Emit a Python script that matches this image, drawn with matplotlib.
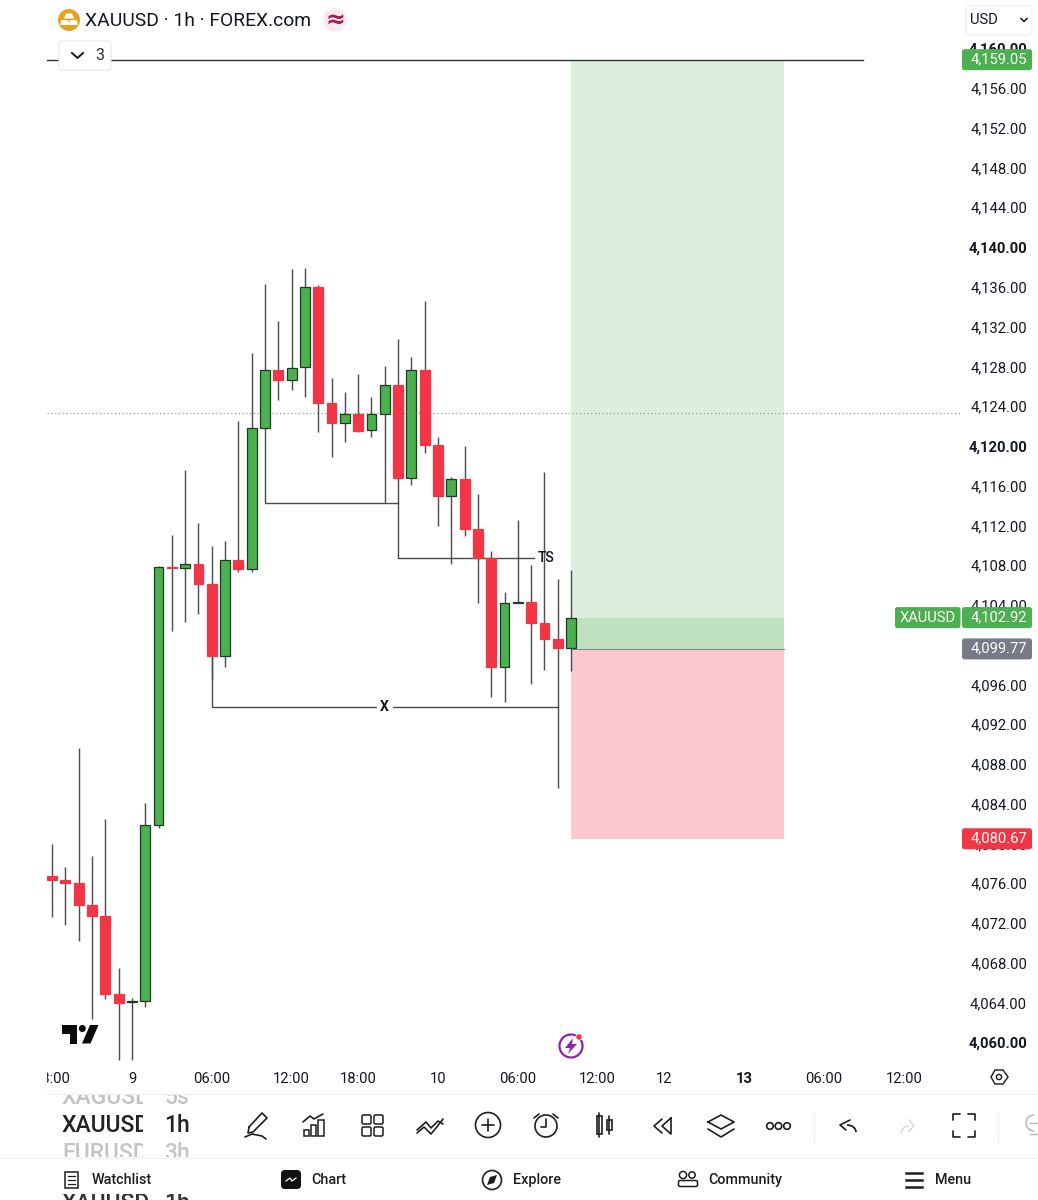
import matplotlib
matplotlib.use("Agg")
import matplotlib.pyplot as plt
from matplotlib.patches import Circle, FancyBboxPatch, Polygon, Rectangle, Arc
from matplotlib.transforms import ScaledTranslation

plt.rcParams['font.family'] = ['Roboto', 'DejaVu Sans']

# candles, oldest first
opens = [4076.95, 4076.55, 4076.25, 4074.03, 4072.93, 4065.08, 4064.20, 4064.35, 4082.02, 4108.00,
         4107.91, 4108.31, 4106.30, 4099.05, 4108.71, 4107.81, 4121.96, 4127.83, 4126.79, 4128.10,
         4136.15, 4124.54, 4122.49, 4123.37, 4121.76, 4123.40, 4126.29, 4116.93, 4127.80, 4120.25,
         4115.18, 4116.86, 4111.80, 4108.94, 4097.98, 4104.36, 4104.52, 4102.34, 4100.73, 4099.89]
highs = [4080.14, 4077.83, 4089.80, 4078.93, 4082.66, 4067.67, 4064.65, 4084.26, 4108.10, 4111.23,
         4117.77, 4112.46, 4110.12, 4110.62, 4122.70, 4129.57, 4136.51, 4132.79, 4137.96, 4138.06,
         4136.38, 4127.02, 4125.61, 4127.45, 4125.11, 4128.26, 4130.98, 4129.10, 4134.80, 4121.06,
         4117.09, 4120.21, 4115.38, 4109.62, 4105.46, 4112.74, 4108.21, 4117.59, 4106.77, 4107.71]
lows = [4072.80, 4071.99, 4070.38, 4062.53, 4064.55, 4058.41, 4058.41, 4063.74, 4081.75, 4101.57,
        4102.47, 4103.28, 4096.64, 4097.95, 4107.50, 4107.50, 4121.90, 4124.81, 4125.81, 4125.11,
        4121.56, 4119.04, 4120.61, 4121.62, 4121.12, 4114.48, 4116.80, 4116.23, 4119.51, 4112.13,
        4108.34, 4111.16, 4104.39, 4094.90, 4094.46, 4104.36, 4096.21, 4097.61, 4085.80, 4097.58]
closes = [4076.52, 4076.22, 4074.03, 4072.90, 4065.08, 4064.17, 4064.30, 4082.02, 4108.00, 4107.95,
          4108.31, 4106.30, 4099.05, 4108.71, 4107.81, 4121.96, 4127.83, 4126.79, 4128.06, 4136.15,
          4124.54, 4122.46, 4123.37, 4121.72, 4123.37, 4126.29, 4116.93, 4127.80, 4120.25, 4115.18,
          4116.86, 4111.80, 4108.94, 4097.98, 4104.36, 4104.46, 4102.34, 4100.73, 4099.89, 4102.92]

price_ticks = list(range(4060, 4161, 4))
bold_prices = [4060, 4120, 4140, 4160]

time_pos = [0, 6, 12, 18, 23, 29, 35, 41, 46, 52, 58, 64]
time_labels = ["18:00", "9", "06:00", "12:00", "18:00", "10", "06:00", "12:00", "12", "13", "06:00", "12:00"]

# position tool and levels
entry = 4099.77
target = 4159.05
stop = 4080.67
last_price = 4102.92
pos_start = 39
pos_end = 55
session_line = 4123.5

GREEN = "#4caf50"
RED = "#f23645"
INK = "#131722"

fig = plt.figure(figsize=(10.38, 12), dpi=100, facecolor="white")

# axes placed so one candle is 13.31 px and one dollar is 9.94 px
ax = fig.add_axes([47 / 1038, 1 - 1062 / 1200, 914 / 1038, 1022 / 1200])
ax.set_xlim(-0.38, 68.3)
ax.set_ylim(4058.21, 4161.03)
for s in ax.spines.values():
    s.set_visible(False)

# position zones
ax.add_patch(Rectangle((pos_start, entry), pos_end - pos_start, target - entry, color="#dcefdc", lw=0, zorder=1))
ax.add_patch(Rectangle((pos_start, entry), pos_end - pos_start, last_price - entry, color="#bfe1bf", lw=0, zorder=1.1))
ax.add_patch(Rectangle((pos_start, stop), pos_end - pos_start, entry - stop, color="#fcc8ce", lw=0, zorder=1))
ax.plot([pos_start, pos_end], [entry, entry], color="#8a8a8a", lw=0.8, zorder=1.2)

# horizontal levels
ax.plot([-0.38, 60.9], [target, target], color="#333333", lw=1.0, zorder=2)
ax.axhline(session_line, color="#9a9a9a", lw=0.9, ls=(0, (1, 2)), zorder=1.5)

# market structure drawings
line_c = "#4a4a4a"
ax.plot([12, 12, 38], [closes[12], 4093.92, 4093.92], color=line_c, lw=1.0, zorder=2)
ax.plot([16, 16, 26], [opens[16], 4114.48, 4114.48], color=line_c, lw=1.0, zorder=2)
ax.plot([26, 26, 36.2], [closes[26], 4108.94, 4108.94], color=line_c, lw=1.0, zorder=2)
ax.text(25, 4093.92, "X", ha="center", va="center", fontsize=10, fontweight="bold", color=INK, zorder=6,
        bbox=dict(facecolor="white", edgecolor="none", pad=2.5))
ax.text(37.1, 4108.9, "TS", ha="center", va="center", fontsize=10, fontweight="medium", color=INK, zorder=6)

# candles
for i in range(len(opens)):
    up = closes[i] >= opens[i]
    ax.plot([i, i], [lows[i], highs[i]], color="#505050", lw=1.05, zorder=3, solid_capstyle="butt")
    ax.bar(i, abs(closes[i] - opens[i]), bottom=min(opens[i], closes[i]), width=0.74,
           color=GREEN if up else RED, edgecolor="#1d3b20" if up else RED, linewidth=0.9, zorder=4)

# price scale and time scale
ax.yaxis.tick_right()
ax.set_yticks(price_ticks)
ax.set_yticklabels([f"{p:,.2f}" for p in price_ticks])
ax.tick_params(axis="y", length=0, pad=47.5, labelsize=10.6, labelcolor=INK)
for lab, p in zip(ax.get_yticklabels(), price_ticks):
    lab.set_ha("right")
    lab.set_fontweight("bold" if p in bold_prices else "normal")
    lab.set_transform(lab.get_transform() + ScaledTranslation(0, 0.02, fig.dpi_scale_trans))
ax.set_xticks(time_pos)
ax.set_xticklabels(time_labels)
ax.tick_params(axis="x", length=0, pad=7, labelsize=10.6, labelcolor=INK)
for lab, t in zip(ax.get_xticklabels(), time_labels):
    if t == "13":
        lab.set_fontweight("bold")

# everything around the chart, in pixel coordinates
ui = fig.add_axes([0, 0, 1, 1], zorder=5)
ui.set_xlim(0, 1038)
ui.set_ylim(1200, 0)
ui.axis("off")

# first time label is cut by the left edge
first = ax.get_xticklabels()[0]
first.set_clip_path(Rectangle((47, 1062), 100, 40, transform=ui.transData))
first.set_clip_on(True)


def box(x0, y0, x1, y1, fc, ec="none", r=2.5, lw=0.8):
    ui.add_patch(FancyBboxPatch((x0 + r, y0 + r), x1 - x0 - 2 * r, y1 - y0 - 2 * r,
                                boxstyle=f"round,pad={r},rounding_size={r}", fc=fc, ec=ec, lw=lw))


def badge(price, color, h=10.5):
    y = 1200 - ax.transData.transform((0, price))[1]
    box(962, y - h, 1032, y + h, color)
    ui.text(1027, y - 0.5, f"{price:,.2f}", ha="right", va="center", color="white", fontsize=10.6)
    return y


badge(target, "#4caf50")
y_last = badge(last_price, "#4caf50")
badge(entry, "#787b86")
badge(stop, RED)
box(895, y_last - 10.5, 960.5, y_last + 10.5, "#4caf50")
ui.text(927.5, y_last, "XAUUSD", ha="center", va="center", color="white", fontsize=10.6)

# header
ui.add_patch(Circle((69, 20), 11, fc="#e0a420", ec="none"))
ui.add_patch(Polygon([[66, 13.5], [72, 13.5], [74, 18.5], [64, 18.5]], fc="white", ec="none"))
ui.add_patch(Polygon([[61.5, 20], [68, 20], [69.5, 25], [60, 25]], fc="white", ec="none"))
ui.add_patch(Polygon([[70, 20], [76.5, 20], [78, 25], [68.5, 25]], fc="white", ec="none"))
ui.text(85, 20.5, "XAUUSD · 1h · FOREX.com", va="center", fontsize=13.9, color=INK)
ui.add_patch(Circle((335, 20), 12, fc="#fce8f1", ec="none"))
ui.text(335, 20, "≈", ha="center", va="center", fontsize=17, color="#a8164f", fontweight="bold",
        family=["DejaVu Sans"])

box(59, 41, 111, 70, "white", ec="#e6e6e6", r=3)
ui.plot([72, 77.5, 83], [53, 58, 53], color=INK, lw=1.4)
ui.text(100, 55, "3", ha="center", va="center", fontsize=11.5, color="#333333")

box(966, 6, 1032, 35, "white", ec="#eeeeee", r=4)
ui.text(970, 20, "USD", va="center", fontsize=10.6, color=INK)
ui.plot([1021, 1024, 1027], [18.5, 21.5, 18.5], color=INK, lw=1.1)

# TradingView mark
ui.add_patch(Polygon([[62, 1025], [77, 1025], [77, 1043.5], [69.5, 1043.5], [69.5, 1034], [62, 1034]], fc="#0b0b0b", ec="none"))
ui.add_patch(Circle((82.3, 1028.5), 3.5, fc="#0b0b0b", ec="none"))
ui.add_patch(Polygon([[90, 1025], [98.5, 1025], [90.5, 1043.5], [82, 1043.5]], fc="#0b0b0b", ec="none"))

# lightning button
ui.add_patch(Circle((571, 1046), 11.5, fc="white", ec="#8e24aa", lw=1.6))
ui.add_patch(Polygon([[573, 1038], [565, 1048], [570, 1048], [568, 1054], [577, 1044], [572, 1044]], fc="#8e24aa", ec="none"))
ui.add_patch(Circle((579, 1037), 3.2, fc="#f23645", ec="white", lw=0.6))

# settings hexagon
ui.add_patch(Polygon([[991, 1077], [995, 1070], [1003, 1070], [1008, 1077], [1003, 1084], [995, 1084]],
                     fc="none", ec=INK, lw=1.0))
ui.add_patch(Circle((999, 1077), 2.6, fc="none", ec=INK, lw=1.0))

# separators
ui.plot([47, 1038], [1094, 1094], color="#efefef", lw=0.9)
ui.plot([0, 1038], [1158, 1158], color="#efefef", lw=0.9)

# symbol and interval pickers
clip_sym = Rectangle((47, 1095), 96, 62, transform=ui.transData)
clip_int = Rectangle((150, 1095), 60, 62, transform=ui.transData)
for y, sym, iv, col in [(1098, "XAGUSD", "5s", "#c4c4c4"), (1125, "XAUUSD", "1h", "#222222"),
                        (1153, "EURUSD", "3h", "#c4c4c4")]:
    t = ui.text(62, y, sym, va="center", fontsize=16.5, color=col, fontweight="medium")
    t.set_clip_path(clip_sym)
    t.set_clip_on(True)
    t = ui.text(164, y, iv, va="center", fontsize=16.5, color=col, fontweight="medium")
    t.set_clip_path(clip_int)
    t.set_clip_on(True)

# toolbar icons
ic = dict(color="#1e1e1e", lw=1.2, solid_capstyle="round")
ui.plot([249, 262, 267, 253, 248, 249], [1127, 1113, 1118, 1132, 1133, 1127], **ic)
ui.plot([245, 252, 262, 266], [1137, 1134, 1136, 1139], **ic)
for x0, x1, y0 in [(304, 309, 1130), (311, 316, 1125), (318, 324, 1120)]:
    ui.add_patch(Rectangle((x0, y0), x1 - x0, 1136 - y0, fc="none", ec="#1e1e1e", lw=1.1))
ui.plot([303, 310, 314, 323], [1122, 1116, 1119, 1114], **ic)
for x in (362, 374):
    for y in (1115, 1127):
        ui.add_patch(FancyBboxPatch((x + 1.5, y + 1.5), 6, 6, boxstyle="round,pad=1.5", fc="none", ec="#1e1e1e", lw=1.1))
ui.plot([417, 426, 431, 438, 443], [1130, 1122, 1128, 1121, 1124], **ic)
ui.plot([417, 424, 431, 436, 443], [1133, 1127, 1134, 1128, 1119], **ic)
ui.add_patch(Circle((488, 1125), 12.5, fc="none", ec="#1e1e1e", lw=1.2))
ui.plot([482, 494], [1125, 1125], **ic)
ui.plot([488, 488], [1119, 1131], **ic)
ui.add_patch(Circle((546, 1126), 11, fc="none", ec="#1e1e1e", lw=1.2))
ui.plot([546, 546, 541], [1119, 1127, 1127], **ic)
ui.plot([534, 539], [1118, 1114], **ic)
ui.plot([553, 558], [1114, 1118], **ic)
ui.add_patch(Rectangle((597, 1116), 4.5, 18, fc="none", ec="#1e1e1e", lw=1.2))
ui.plot([599.3, 599.3], [1113, 1137], **ic)
ui.add_patch(Rectangle((607, 1120), 4.5, 10, fc="none", ec="#1e1e1e", lw=1.2))
ui.plot([609.3, 609.3], [1116, 1134], **ic)
ui.plot([662, 654, 662], [1119, 1126, 1133], **ic)
ui.plot([671, 662, 671, 671], [1118, 1126, 1134, 1118], **ic)
ui.plot([708, 721, 734, 721, 708], [1122, 1115, 1122, 1129, 1122], **ic)
ui.plot([708, 721, 734], [1129, 1137, 1129], **ic)
for x in (770, 778.5, 787):
    ui.add_patch(Circle((x, 1126), 3.3, fc="none", ec="#1e1e1e", lw=1.2))
ui.plot([814, 814], [1112, 1142], color="#eeeeee", lw=0.8)
ui.plot([850, 840, 846], [1120, 1125, 1130], **ic)
ui.add_patch(Arc((847, 1132), 18, 14, theta1=270, theta2=360, ec="#1e1e1e", lw=1.3))
ui.plot([909, 914, 909], [1120, 1126, 1131], color="#d6d6d6", lw=1.0)
ui.add_patch(Arc((909, 1133), 16, 14, theta1=180, theta2=270, ec="#d6d6d6", lw=1.0))
ui.plot([953, 953, 960], [1120, 1114, 1114], **ic)
ui.plot([968, 975, 975], [1114, 1114, 1120], **ic)
ui.plot([953, 953, 960], [1131, 1137, 1137], **ic)
ui.plot([968, 975, 975], [1137, 1137, 1131], **ic)
ui.plot([998, 998], [1112, 1142], color="#eeeeee", lw=0.8)
ui.add_patch(Arc((1034, 1123), 16, 16, theta1=90, theta2=270, ec="#b5b5b5", lw=1.1))
ui.plot([1030, 1038], [1123, 1123], color="#b5b5b5", lw=1.0)
ui.plot([1030, 1038], [1134, 1134], color="#b5b5b5", lw=1.0)

# bottom navigation
nav = [(92, "Watchlist"), (311, "Chart"), (513, "Explore"), (708, "Community"), (935, "Menu")]
for x, name in nav:
    ui.text(x, 1180, name, va="center", fontsize=10.4, color="#1e1e1e", fontweight="medium")
ui.add_patch(Rectangle((65, 1172), 13, 16, fc="none", ec="#1e1e1e", lw=1.1))
for y in (1176, 1180, 1184):
    ui.plot([68, 75], [y, y], color="#1e1e1e", lw=0.9)
box(281, 1170, 301, 1189, "#111111", r=4)
ui.plot([286, 290, 292, 296], [1181, 1178, 1181, 1178], color="white", lw=0.9)
ui.add_patch(Circle((492, 1180), 9.5, fc="none", ec="#1e1e1e", lw=1.2))
ui.add_patch(Polygon([[497, 1175], [494, 1183], [487, 1185], [490, 1177]], fc="#1e1e1e", ec="none"))
ui.add_patch(Circle((683, 1175), 3.6, fc="none", ec="#1e1e1e", lw=1.1))
ui.add_patch(Circle((692, 1175), 3.2, fc="none", ec="#1e1e1e", lw=1.1))
ui.add_patch(FancyBboxPatch((680, 1182), 16, 3, boxstyle="round,pad=1.5", fc="none", ec="#1e1e1e", lw=1.1))
for y in (1173, 1180, 1187):
    ui.plot([906, 922], [y, y], color="#1e1e1e", lw=1.8)

# cut-off row at the very bottom
clip_bot = Rectangle((0, 1194), 1038, 6, transform=ui.transData)
for x, s in [(62, "XAUUSD"), (164, "1h")]:
    t = ui.text(x, 1204, s, va="center", fontsize=16.5, color="#333333", fontweight="medium")
    t.set_clip_path(clip_bot)
    t.set_clip_on(True)

fig.savefig("out.png", dpi=100, facecolor="white")
